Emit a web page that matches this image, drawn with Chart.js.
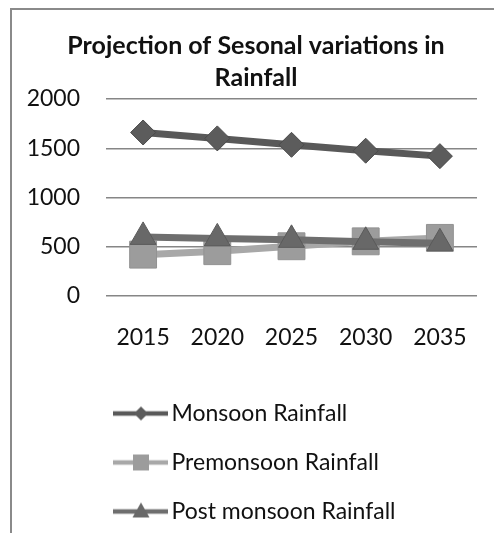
<!DOCTYPE html>
<html>
<head>
<meta charset="utf-8">
<script src="https://cdn.jsdelivr.net/npm/chart.js@4/dist/chart.umd.min.js"></script>
<style>
  body { margin: 0; background: #fff; }
  #wrap { position: relative; width: 494px; height: 533px; overflow: hidden; }
  #frame {
    position: absolute; left: 10px; top: 8px; width: 600px; height: 600px;
    border-left: 2px solid #8a8a8a; border-top: 2px solid #8a8a8a;
  }
  #rainChart { position: absolute; left: 0; top: 0; }
</style>
</head>
<body>
<div id="wrap">
  <div id="frame"></div>
  <!-- the chart box runs a little past the right edge, like the framed original -->
  <canvas id="rainChart" width="512" height="533"></canvas>
</div>
<script>
const years = ["2015", "2020", "2025", "2030", "2035"];
const monsoonRain = [1660, 1600, 1535, 1475, 1420];
const premonsoonRain = [420, 455, 505, 555, 590];
const postMonsoonRain = [600, 585, 570, 550, 535];
const rainTicks = [0, 500, 1000, 1500, 2000];

const SERIES = [
  { label: "Monsoon Rainfall", data: monsoonRain, line: "#595959", marker: "#5c5c5c", edge: "#4a4a4a", style: "rectRot", radius: 12.5, order: 2 },
  { label: "Premonsoon Rainfall", data: premonsoonRain, line: "#a8a8a8", marker: "#9c9c9c", edge: "#929292", style: "rect", radius: 19, order: 1 },
  { label: "Post monsoon Rainfall", data: postMonsoonRain, line: "#6e6e6e", marker: "#686868", edge: "#5a5a5a", style: "triangle", radius: 15, order: 0 },
];

const FONT = "Lato, 'Open Sans', sans-serif";

// small line + marker picture used as the legend symbol
function legendIcon(s) {
  const c = document.createElement("canvas");
  c.width = 66;
  c.height = 24;
  const g = c.getContext("2d");
  g.strokeStyle = s.line;
  g.lineWidth = 4.5;
  g.beginPath();
  g.moveTo(0, 12);
  g.lineTo(55, 12);
  g.stroke();
  g.fillStyle = s.marker;
  g.beginPath();
  const cx = 28, cy = 12;
  if (s.style === "rectRot") {
    g.moveTo(cx - 7, cy);
    g.lineTo(cx, cy - 7);
    g.lineTo(cx + 7, cy);
    g.lineTo(cx, cy + 7);
  } else if (s.style === "rect") {
    g.rect(cx - 8, cy - 8, 16, 16);
  } else {
    g.moveTo(cx, cy - 9);
    g.lineTo(cx + 8.5, cy + 6);
    g.lineTo(cx - 8.5, cy + 6);
  }
  g.closePath();
  g.fill();
  return c;
}

const ctx = document.getElementById("rainChart").getContext("2d");

new Chart(ctx, {
  type: "line",
  data: {
    labels: years,
    datasets: SERIES.map(function (s) {
      return {
        label: s.label,
        data: s.data,
        order: s.order,
        yAxisID: "y",
        borderColor: s.line,
        borderWidth: 7,
        tension: 0,
        pointStyle: s.style,
        pointRadius: s.radius,
        pointHoverRadius: s.radius,
        pointBackgroundColor: s.marker,
        pointBorderColor: s.edge,
        pointBorderWidth: 1,
        fill: false,
      };
    }),
  },
  options: {
    responsive: false,
    animation: false,
    layout: { padding: 0 },
    scales: {
      x: {
        offset: true,
        grid: { display: false, drawTicks: false },
        border: { display: false },
        ticks: {
          color: "#111",
          padding: 28,
          font: { family: FONT, size: 23 },
        },
        afterFit: function (scale) {
          scale.height = 80;
        },
      },
      y: {
        min: 0,
        max: 2000,
        afterBuildTicks: function (scale) {
          scale.ticks = rainTicks.map(function (v) {
            return { value: v };
          });
        },
        grid: { color: "#868686", lineWidth: 1.5, drawTicks: false },
        border: { display: false },
        ticks: {
          color: "#111",
          padding: 26,
          font: { family: FONT, size: 23 },
          callback: function (value) {
            return String(value);
          },
        },
        afterFit: function (scale) {
          scale.width = 106;
        },
      },
      // empty right-hand margin of the plot
      yRight: {
        position: "right",
        grid: { display: false, drawTicks: false },
        border: { display: false },
        ticks: { display: false },
        afterFit: function (scale) {
          scale.width = 35;
        },
      },
    },
    plugins: {
      title: {
        display: true,
        text: ["Projection of Sesonal variations in", "Rainfall"],
        color: "#111",
        font: { family: FONT, size: 25, weight: "bold", lineHeight: 1.28 },
        padding: { top: 30, bottom: 5 },
      },
      legend: {
        position: "bottom",
        align: "start",
        fullSize: false,
        maxHeight: 159,
        labels: {
          usePointStyle: true,
          pointStyleWidth: 28,
          padding: 26,
          color: "#111",
          font: { family: FONT, size: 23 },
          generateLabels: function (chart) {
            return SERIES.map(function (s, i) {
              return {
                text: s.label,
                pointStyle: legendIcon(s),
                fillStyle: s.marker,
                strokeStyle: s.line,
                lineWidth: 0,
                hidden: !chart.isDatasetVisible(i),
                datasetIndex: i,
                fontColor: "#111",
              };
            });
          },
        },
      },
      tooltip: { enabled: false },
    },
  },
});
</script>
</body>
</html>
